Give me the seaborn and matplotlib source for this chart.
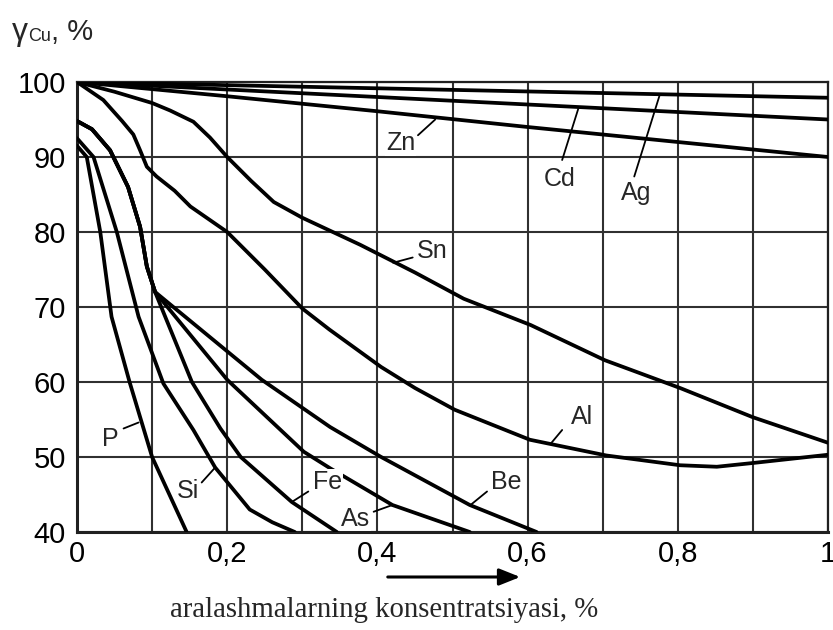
import numpy as np
import pandas as pd
import matplotlib
matplotlib.use("Agg")
import matplotlib.pyplot as plt
import seaborn as sns

# ---------------- data ----------------
Ag_x = [0.0, 0.5, 1.0]
Ag_y = [100.0, 98.95, 97.9]
Cd_x = [0.0, 0.5, 1.0]
Cd_y = [100.0, 97.5, 95.0]
Zn_x = [0.0, 0.2, 0.4, 0.6, 0.8, 1.0]
Zn_y = [100.0, 98.1, 96.1, 94.0, 92.0, 90.0]
Sn_x = [0.0, 0.05, 0.1, 0.124, 0.155, 0.177, 0.2, 0.232, 0.262, 0.3, 0.377, 0.45, 0.515, 0.604, 0.703, 0.803, 0.9, 1.0]
Sn_y = [100.0, 98.7, 97.2, 96.2, 94.7, 92.6, 90.0, 86.8, 84.0, 81.9, 78.3, 74.6, 71.1, 67.6, 62.9, 59.2, 55.3, 51.9]
Al_x = [0.0, 0.035, 0.06, 0.075, 0.084, 0.093, 0.106, 0.13, 0.151, 0.2, 0.25, 0.3, 0.336, 0.405, 0.45, 0.503, 0.603, 0.705, 0.803, 0.852, 0.9, 1.0]
Al_y = [100.0, 97.6, 94.8, 93.0, 90.9, 88.7, 87.4, 85.5, 83.4, 80.0, 75.0, 69.8, 67.0, 62.0, 59.2, 56.3, 52.3, 50.2, 48.9, 48.7, 49.2, 50.3]
# common starting branch of Fe, As, Be
Start_x = [0.0, 0.02, 0.044, 0.068, 0.084, 0.093, 0.104]
Start_y = [94.8, 93.7, 90.9, 86.0, 80.7, 75.4, 72.0]
Fe_x = [0.153, 0.191, 0.218, 0.286, 0.346]
Fe_y = [60.0, 53.8, 50.0, 44.0, 40.0]
As_x = [0.2, 0.302, 0.337, 0.42, 0.523]
As_y = [60.3, 50.7, 48.5, 43.6, 40.0]
Be_x = [0.246, 0.337, 0.405, 0.523, 0.612]
Be_y = [60.3, 54.0, 50.0, 43.6, 40.0]
Si_x = [0.0, 0.022, 0.053, 0.082, 0.115, 0.155, 0.184, 0.23, 0.26, 0.29]
Si_y = [92.5, 90.0, 80.0, 68.7, 59.8, 53.6, 48.6, 43.0, 41.3, 40.0]
P_x = [0.0, 0.013, 0.031, 0.046, 0.07, 0.1, 0.146]
P_y = [91.5, 90.0, 80.0, 68.7, 60.0, 50.0, 40.0]

x_ticks = [0.0, 0.2, 0.4, 0.6, 0.8, 1.0]
x_tick_labels = ["0", "0,2", "0,4", "0,6", "0,8", "1"]
y_ticks = [40, 50, 60, 70, 80, 90, 100]

# label text position, leader start, leader end (data coords)
labels = {
    "Zn": ((0.431, 91.9), (0.454, 92.9), (0.477, 95.0)),
    "Cd": ((0.642, 87.0), (0.646, 89.6), (0.668, 96.6)),
    "Ag": ((0.744, 85.2), (0.742, 87.4), (0.776, 98.3)),
    "Sn": ((0.473, 77.5), (0.447, 76.6), (0.421, 75.9)),
    "Al": ((0.673, 55.4), (0.646, 53.6), (0.631, 51.8)),
    "Be": ((0.571, 46.7), (0.546, 45.4), (0.524, 43.6)),
    "As": ((0.371, 41.8), (0.395, 42.7), (0.42, 43.6)),
    "Fe": ((0.334, 46.7), (0.308, 45.4), (0.286, 44.0)),
    "Si": ((0.148, 45.5), (0.166, 46.6), (0.184, 48.6)),
    "P":  ((0.044, 52.4), (0.062, 53.8), (0.082, 54.6)),
}

# ---------------- build long table ----------------
curves = {
    "Ag": (Ag_x, Ag_y),
    "Cd": (Cd_x, Cd_y),
    "Zn": (Zn_x, Zn_y),
    "Sn": (Sn_x, Sn_y),
    "Al": (Al_x, Al_y),
    "Fe": (Start_x + Fe_x, Start_y + Fe_y),
    "As": (Start_x + As_x, Start_y + As_y),
    "Be": (Start_x + Be_x, Start_y + Be_y),
    "Si": (Si_x, Si_y),
    "P": (P_x, P_y),
}
rows = []
for name, (xs, ys) in curves.items():
    for i, (xv, yv) in enumerate(zip(xs, ys)):
        rows.append({"curve": name, "order": i, "x": xv, "y": yv})
df = pd.DataFrame(rows)

# ---------------- figure ----------------
sns.set_theme(style="white")
plt.rcParams["font.family"] = ["Liberation Sans", "DejaVu Sans"]

W, H = 833, 630
fig = plt.figure(figsize=(W / 100, H / 100), dpi=100)
x0, x1, ytop, ybot = 77, 828, 82, 532
ax = fig.add_axes([x0 / W, 1 - ybot / H, (x1 - x0) / W, (ybot - ytop) / H])

line_kw = dict(solid_joinstyle="round", solid_capstyle="round")
sns.lineplot(data=df, x="x", y="y", units="curve", estimator=None, sort=False,
             color="black", lw=2.7, ax=ax, legend=False, zorder=3, **line_kw)

ax.set_xlim(0, 1)
ax.set_ylim(40, 100)
ax.set_xticks(np.arange(0, 1.0001, 0.1))
ax.set_xticklabels([x_tick_labels[x_ticks.index(round(v, 1))] if round(v, 1) in x_ticks else ""
                    for v in np.arange(0, 1.0001, 0.1)])
ax.set_yticks(y_ticks)
ax.set_yticklabels([str(v) for v in y_ticks])
ax.tick_params(axis="both", length=0, labelsize=21, colors="black")
ax.tick_params(axis="x", pad=6)
ax.tick_params(axis="y", pad=8)
ax.grid(True, color="#303030", lw=1.5)
ax.set_axisbelow(True)
for s in ax.spines.values():
    s.set_color("#202020")
    s.set_linewidth(1.6)
ax.spines["left"].set_linewidth(2.2)
ax.spines["bottom"].set_linewidth(2.2)
ax.set_xlabel("")
ax.set_ylabel("")

for name, (tp, ls, le) in labels.items():
    ax.text(tp[0], tp[1], name, fontsize=18, ha="center", va="center", zorder=5,
            bbox=dict(facecolor="white", edgecolor="none", pad=0.5))
    ax.plot([ls[0], le[0]], [ls[1], le[1]], color="black", lw=1.3, zorder=4)

# y label at top-left
fig.text(12 / W, 1 - 40 / H, "γ", fontsize=23, ha="left", va="baseline")
fig.text(28 / W, 1 - 41 / H, "Cu", fontsize=13, ha="left", va="baseline")
fig.text(51 / W, 1 - 40 / H, ", %", fontsize=21, ha="left", va="baseline")

# arrow under the axis
fig.add_artist(matplotlib.patches.FancyArrowPatch(
    (385 / W, 1 - 577 / H), (523 / W, 1 - 577 / H), transform=fig.transFigure,
    arrowstyle="-|>,head_length=0.75,head_width=0.3", mutation_scale=17,
    color="black", lw=2.2))

fig.text(384 / W, 1 - 617 / H, "aralashmalarning konsentratsiyasi, %",
         fontsize=20.7, ha="center", va="baseline", family="Liberation Serif")

fig.savefig("out.png", dpi=100, facecolor="white")
